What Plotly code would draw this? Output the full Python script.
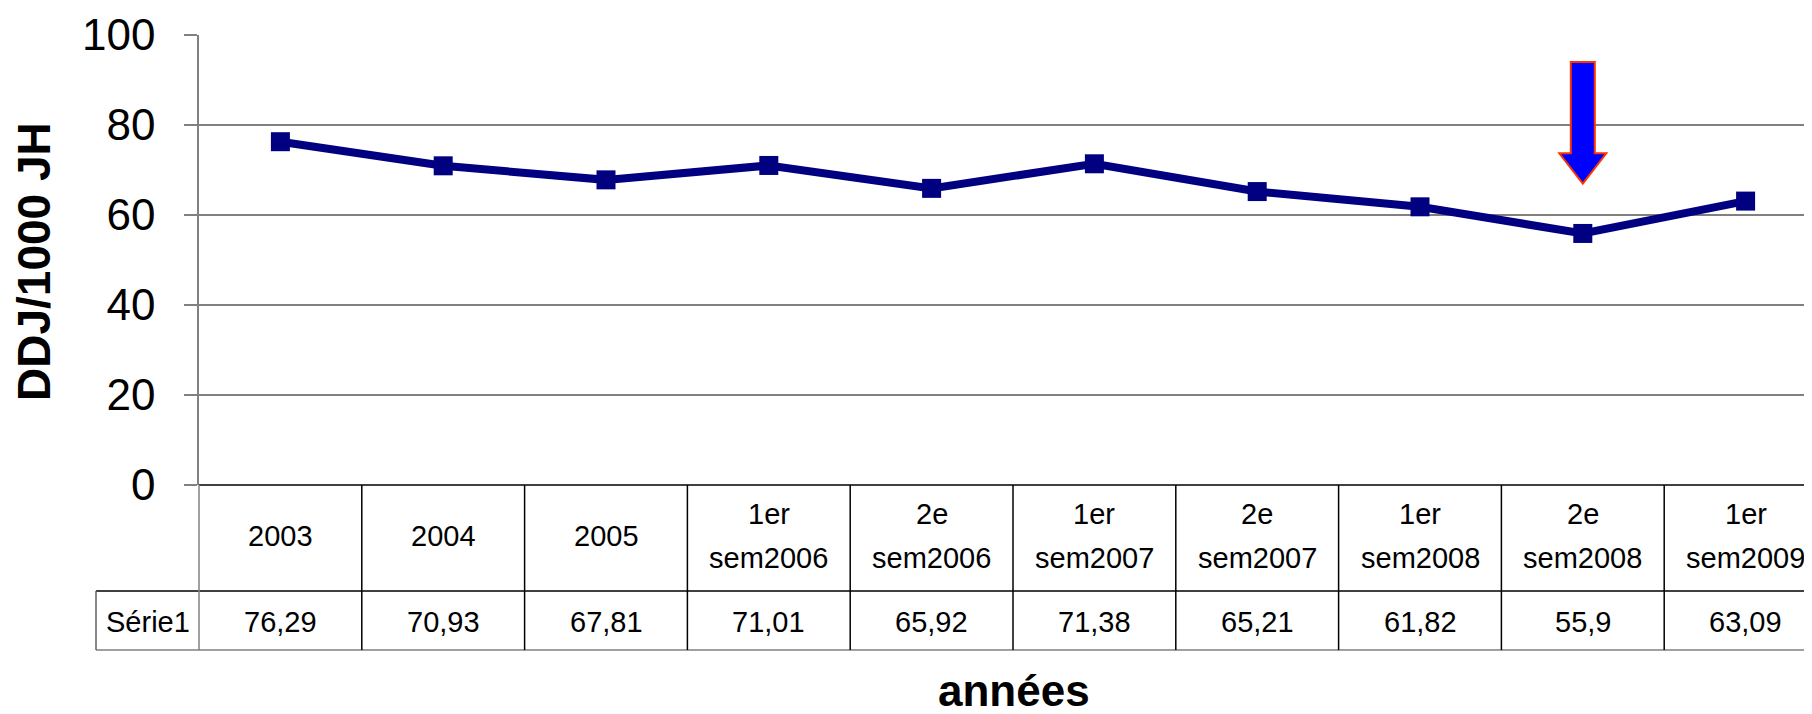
import plotly.graph_objects as go

# data
periodes = ["2003", "2004", "2005", "1er sem2006", "2e sem2006", "1er sem2007",
            "2e sem2007", "1er sem2008", "2e sem2008", "1er sem2009"]
ddj = [76.29, 70.93, 67.81, 71.01, 65.92, 71.38, 65.21, 61.82, 55.9, 63.09]
serie_nom = "Série1"
y_ticks = [0, 20, 40, 60, 80, 100]

FONT = "Liberation Sans, Arial, sans-serif"
OFF = 8  # the page body adds an 8px margin
W, H = 1812 - OFF, 714 - OFF
L, T = 199 - OFF, 35 - OFF
B = H - (485 - OFF)
plot_w = W - L
plot_h = H - T - B
col_w = 162.8  # pixel width of one category column
x_range = [-0.5, -0.5 + plot_w / col_w]


def xp(v):
    """category index -> paper x"""
    return (v - x_range[0]) / (x_range[1] - x_range[0])


def px_x(px):
    """screen pixel x -> paper x"""
    return (px - OFF - L) / plot_w


def px_y(px):
    """screen pixel y (from top) -> paper y"""
    return (H - B - (px - OFF)) / plot_h


fig = go.Figure()

fig.add_trace(go.Scatter(
    x=periodes,
    y=ddj,
    mode='lines+markers',
    name=serie_nom,
    line=dict(color='#000080', width=8),
    marker=dict(symbol='square', size=19, color='#000080'),
    showlegend=False,
))

# table under the plot
row1_bottom = 591
row2_bottom = 650
serie_left = 96
shapes = []
shapes.append(dict(type='line', xref='paper', yref='paper', x0=0, x1=1, y0=0, y1=0,
                   line=dict(color='#000000', width=1.5)))
shapes.append(dict(type='line', xref='paper', yref='paper', x0=px_x(serie_left), x1=1,
                   y0=px_y(row1_bottom), y1=px_y(row1_bottom),
                   line=dict(color='#000000', width=1.5)))
shapes.append(dict(type='line', xref='paper', yref='paper', x0=px_x(serie_left), x1=1,
                   y0=px_y(row2_bottom), y1=px_y(row2_bottom),
                   line=dict(color='#808080', width=1.5)))
shapes.append(dict(type='line', xref='paper', yref='paper', x0=0, x1=0,
                   y0=px_y(row2_bottom), y1=0, line=dict(color='#808080', width=1.5)))
shapes.append(dict(type='line', xref='paper', yref='paper',
                   x0=px_x(serie_left), x1=px_x(serie_left),
                   y0=px_y(row2_bottom), y1=px_y(row1_bottom),
                   line=dict(color='#606060', width=1.5)))
for i in range(len(periodes) - 1):
    shapes.append(dict(type='line', xref='paper', yref='paper',
                       x0=xp(i + 0.5), x1=xp(i + 0.5),
                       y0=px_y(row2_bottom), y1=0, line=dict(color='#000000', width=1.5)))

# arrow pointing at the lowest value
i_min = ddj.index(min(ddj))
cx = xp(i_min)
sw = 12 / plot_w
hw = 23.5 / plot_w
y_top, y_head, y_tip = 94.0, 73.7, 67.0
arrow = (f"M {cx - sw},{y_top} L {cx + sw},{y_top} L {cx + sw},{y_head} "
         f"L {cx + hw},{y_head} L {cx},{y_tip} L {cx - hw},{y_head} "
         f"L {cx - sw},{y_head} Z")
shapes.append(dict(type='path', xref='paper', yref='y', path=arrow,
                   fillcolor='#0000FF', line=dict(color='#FF3300', width=2)))

tfont = dict(size=29, color='black', family=FONT)
annotations = []
for i, (p, v) in enumerate(zip(periodes, ddj)):
    lines = p.split(' ')
    # one line centred in the cell, two lines spaced like the original table
    ys = [536] if len(lines) == 1 else [514, 558]
    for txt, yy in zip(lines, ys):
        annotations.append(dict(x=i, y=px_y(yy), xref='x', yref='paper',
                                text=txt, showarrow=False,
                                xanchor='center', yanchor='middle', font=tfont))
    annotations.append(dict(x=i, y=px_y(621.5), xref='x', yref='paper',
                            text=f"{v:g}".replace('.', ','), showarrow=False,
                            xanchor='center', yanchor='middle', font=tfont))
annotations.append(dict(x=px_x((serie_left + 199) / 2), y=px_y(621.5),
                        xref='paper', yref='paper',
                        text=serie_nom, showarrow=False, xanchor='center', yanchor='middle',
                        font=tfont))

# axis titles
annotations.append(dict(x=px_x(34), y=px_y(262), xref='paper', yref='paper',
                        text='DDJ/1000 JH', showarrow=False, textangle=-90,
                        xanchor='center', yanchor='middle',
                        font=dict(size=46, color='black', family=FONT, weight='bold')))
annotations.append(dict(x=px_x(1014), y=px_y(690.5), xref='paper', yref='paper',
                        text='années', showarrow=False,
                        xanchor='center', yanchor='middle',
                        font=dict(size=44, color='black', family=FONT, weight='bold')))

fig.update_layout(
    width=W, height=H,
    margin=dict(l=L, r=0, t=T, b=B),
    plot_bgcolor='white',
    paper_bgcolor='white',
    font=dict(family=FONT, color='black'),
    xaxis=dict(
        type='category',
        range=x_range,
        showticklabels=False,
        showgrid=False,
        showline=False,
        zeroline=False,
        ticks='',
    ),
    yaxis=dict(
        range=[0, 100],
        tickvals=y_ticks,
        showgrid=True,
        gridcolor='#808080',
        gridwidth=1.5,
        showline=True,
        linecolor='#808080',
        linewidth=1.5,
        ticks='outside',
        ticklen=13,
        tickcolor='#808080',
        tickwidth=1.5,
        zeroline=False,
        ticklabelstandoff=20,
        tickfont=dict(size=44, color='black', family=FONT),
    ),
    shapes=shapes,
    annotations=annotations,
)

fig.write_html("out.html")
